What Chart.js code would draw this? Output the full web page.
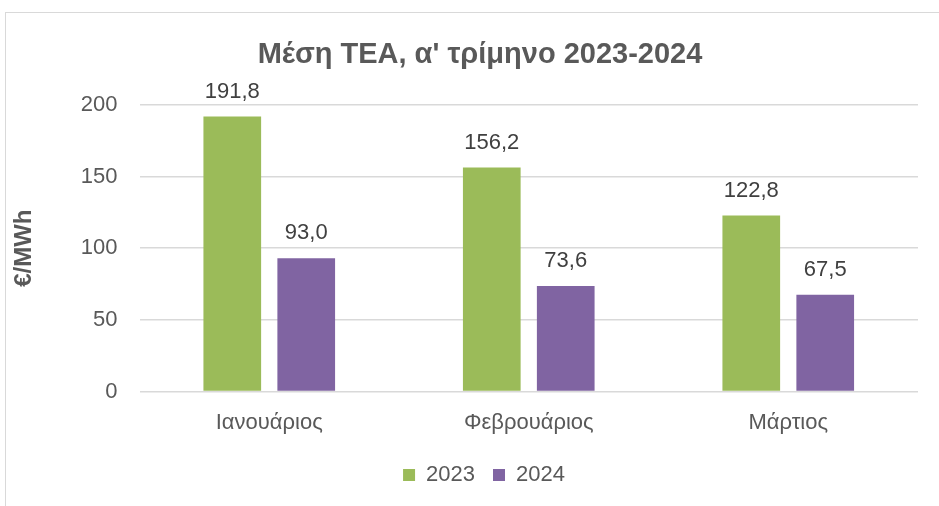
<!DOCTYPE html>
<html>
<head>
<meta charset="utf-8">
<script src="https://cdn.jsdelivr.net/npm/chart.js@4"></script>
<style>
  body { margin: 0; background: #fff; }
  #frame { position: absolute; left: 5px; top: 12px; width: 960px; height: 520px; border: 1px solid #d9d9d9; }
  #wrap { position: absolute; left: 0; top: 0; width: 939px; height: 506px; }
</style>
</head>
<body>
<div id="frame"></div>
<div id="wrap"><canvas id="teaChart"></canvas></div>
<script>
const months = ['Ιανουάριος', 'Φεβρουάριος', 'Μάρτιος'];
const values2023 = [191.8, 156.2, 122.8];
const values2024 = [93.0, 73.6, 67.5];
const yTicks = [0, 50, 100, 150, 200];

const FONT = '"Liberation Sans Narrow", sans-serif';

// simple value labels above each bar, greek decimal comma
const barLabels = {
    id: 'barLabels',
    afterDatasetsDraw(chart) {
        const ctx = chart.ctx;
        ctx.save();
        ctx.font = '22px ' + FONT;
        ctx.fillStyle = '#404040';
        ctx.textAlign = 'center';
        ctx.textBaseline = 'bottom';
        chart.data.datasets.forEach((ds, i) => {
            chart.getDatasetMeta(i).data.forEach((bar, j) => {
                const txt = ds.data[j].toFixed(1).replace('.', ',');
                ctx.fillText(txt, bar.x, bar.y - 14);
            });
        });
        ctx.restore();
    }
};

// the excel frame is wider than the window, so title and legend sit a bit right of centre
const nudgeCentre = {
    id: 'nudgeCentre',
    afterLayout(chart) {
        if (chart.titleBlock) chart.titleBlock.left += 36;
        if (chart.legend) chart.legend.left += 44;
    }
};

class TeaChart {
    constructor() {
        this.ctx = document.getElementById('teaChart').getContext('2d');
    }

    build() {
        this.chart = new Chart(this.ctx, {
            type: 'bar',
            data: {
                labels: months,
                datasets: [{
                    label: '2023',
                    data: values2023,
                    backgroundColor: '#9bbb59'
                }, {
                    label: '2024',
                    data: values2024,
                    backgroundColor: '#8064a2'
                }]
            },
            plugins: [barLabels, nudgeCentre],
            options: {
                responsive: true,
                maintainAspectRatio: false,
                animation: false,
                categoryPercentage: 0.57,
                barPercentage: 0.78,
                layout: { padding: { left: 6, right: 21, top: 38, bottom: 10 } },
                plugins: {
                    title: {
                        display: true,
                        text: "Μέση ΤΕΑ, α' τρίμηνο 2023-2024",
                        color: '#595959',
                        font: { family: FONT, size: 29, weight: 'bold' },
                        padding: { top: 0, bottom: 32 }
                    },
                    legend: {
                        position: 'bottom',
                        labels: {
                            color: '#595959',
                            font: { family: FONT, size: 22 },
                            boxWidth: 12,
                            boxHeight: 12,
                            padding: 18
                        }
                    },
                    tooltip: { enabled: false }
                },
                scales: {
                    x: {
                        grid: { display: false },
                        border: { display: false },
                        ticks: { color: '#595959', font: { family: FONT, size: 22 }, padding: 10 }
                    },
                    y: {
                        min: 0,
                        max: 200,
                        afterBuildTicks: axis => { axis.ticks = yTicks.map(v => ({ value: v })); },
                        grid: { color: '#d9d9d9', lineWidth: 1.5, drawTicks: false },
                        border: { display: false },
                        ticks: { color: '#595959', font: { family: FONT, size: 22 }, padding: 22 },
                        title: {
                            display: true,
                            text: '€/MWh',
                            color: '#595959',
                            font: { family: FONT, size: 24, weight: 'bold' },
                            padding: { bottom: 20 }
                        }
                    }
                }
            }
        });
    }
}

new TeaChart().build();
</script>
</body>
</html>
